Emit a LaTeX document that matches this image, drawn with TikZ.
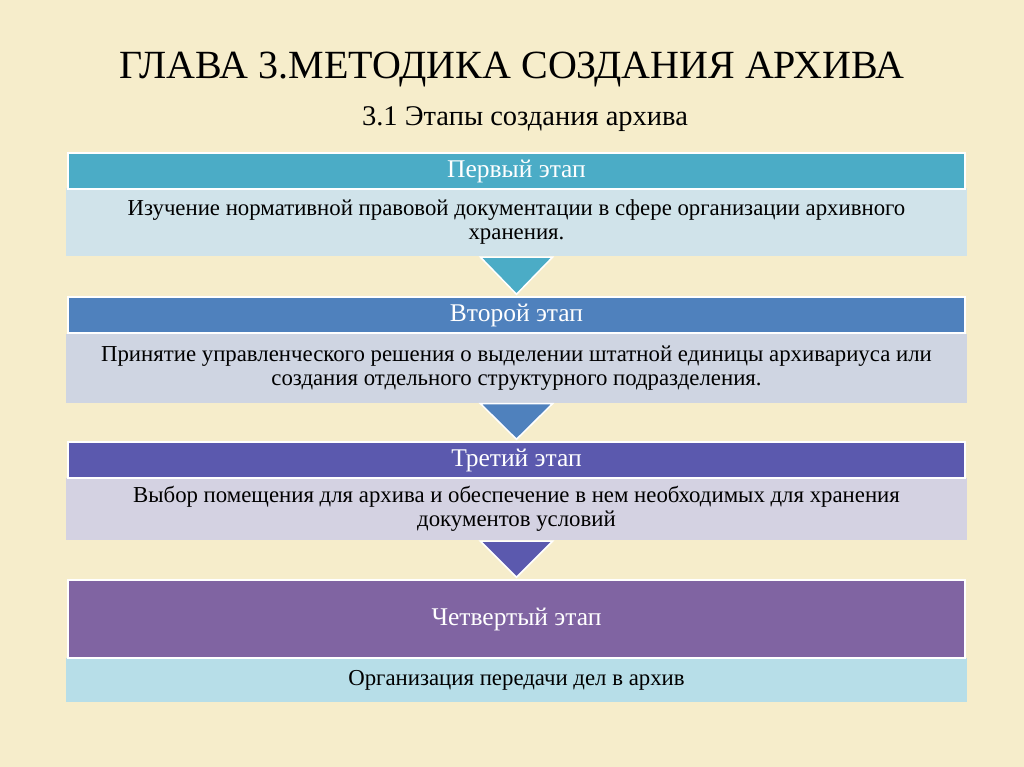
\documentclass[tikz,border=0pt]{standalone}
\usepackage{fontspec}
\setmainfont{Liberation Serif}
\usetikzlibrary{calc}
\definecolor{parch}{HTML}{F6EDCB}
\definecolor{tealH}{HTML}{4BACC6}
\definecolor{tealB}{HTML}{D0E3EA}
\definecolor{blueH}{HTML}{4F81BD}
\definecolor{blueB}{HTML}{CFD5E2}
\definecolor{violH}{HTML}{5B59AE}
\definecolor{violB}{HTML}{D4D2E2}
\definecolor{purpH}{HTML}{8064A2}
\definecolor{cyanB}{HTML}{B7DEE8}
\begin{document}
\begin{tikzpicture}[x=1pt,y=-1pt,
  head/.style={draw=white,line width=1.5pt,minimum width=897pt,minimum height=36pt,inner sep=0pt,
    text=white,font=\fontsize{25.5}{27}\selectfont},
  body/.style={minimum width=901pt,text width=880pt,inner sep=0pt,align=flush center,
    font=\fontsize{22.8}{24}\selectfont},
  down/.style={draw=white,line width=1.5pt,line join=miter}]
\useasboundingbox (0,0) rectangle (1024,767);
\fill[parch] (0,0) rectangle (1024,767);
\node[font=\fontsize{40}{44}\selectfont] (title) at (512,70) {ГЛАВА 3.МЕТОДИКА СОЗДАНИЯ АРХИВА};
\node[font=\fontsize{28.5}{30}\selectfont] (sub) at (525,119) {3.1 Этапы создания архива};
% stage 1
\node[body,fill=tealB,minimum height=68pt] (b1) at (516.5,222) {Изучение нормативной правовой документации в сфере организации архивного\\хранения.};
\node[head,fill=tealH] (h1) at (516.5,171) {Первый этап};
% stage 2
\node[body,fill=blueB,minimum height=69pt] (b2) at (516.5,368) {Принятие управленческого решения о выделении штатной единицы архивариуса или\\создания отдельного структурного подразделения.};
\node[head,fill=blueH] (h2) at (516.5,315) {Второй этап};
% stage 3
\node[body,fill=violB,minimum height=62pt] (b3) at (516.5,509) {Выбор помещения для архива и обеспечение в нем необходимых для хранения\\документов условий};
\node[head,fill=violH] (h3) at (516.5,460) {Третий этап};
% stage 4
\node[body,fill=cyanB,minimum height=44pt] (b4) at (516.5,680) {Организация передачи дел в архив};
\node[head,fill=purpH,minimum height=78pt] (h4) at (516.5,619) {Четвертый этап};
% arrows between stages
\filldraw[down,fill=tealH] ($(b1.south)+(-36,1)$) -- ($(b1.south)+(36,1)$) -- ($(h2.north)+(0,-2)$) -- cycle;
\filldraw[down,fill=blueH] ($(b2.south)+(-36,1)$) -- ($(b2.south)+(36,1)$) -- ($(h3.north)+(0,-2)$) -- cycle;
\filldraw[down,fill=violH] ($(b3.south)+(-36,1)$) -- ($(b3.south)+(36,1)$) -- ($(h4.north)+(0,-2)$) -- cycle;
\end{tikzpicture}
\end{document}
